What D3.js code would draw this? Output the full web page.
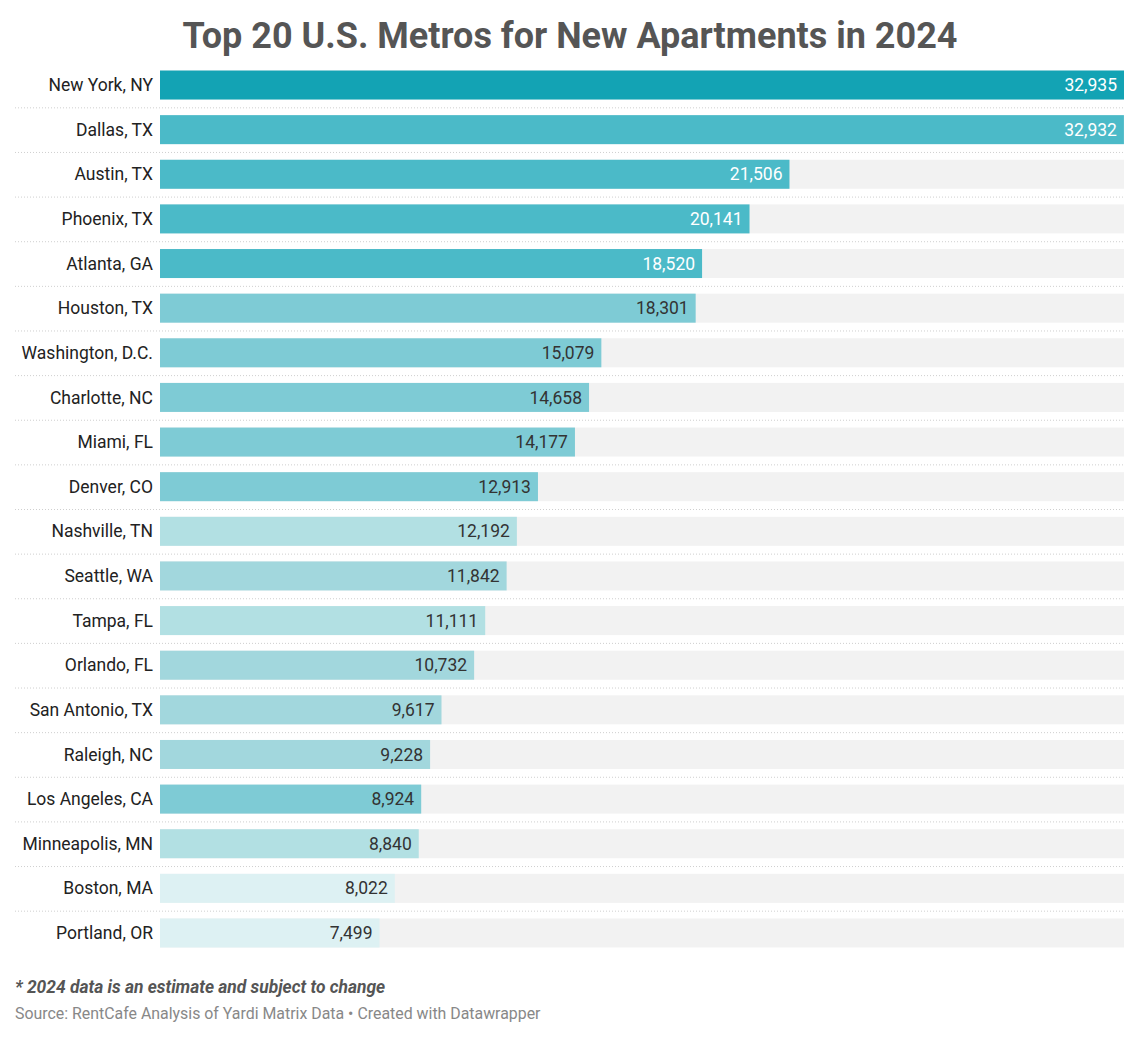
<!DOCTYPE html>
<html><head><meta charset="utf-8">
<script src="https://cdn.jsdelivr.net/npm/d3@7"></script>
<style>body{margin:0;background:#fff;font-family:Roboto,"Noto Sans",sans-serif;}</style>
</head><body><svg id="c" width="1140" height="1038"></svg>
<script>
const metros = ["New York, NY","Dallas, TX","Austin, TX","Phoenix, TX","Atlanta, GA","Houston, TX","Washington, D.C.","Charlotte, NC","Miami, FL","Denver, CO","Nashville, TN","Seattle, WA","Tampa, FL","Orlando, FL","San Antonio, TX","Raleigh, NC","Los Angeles, CA","Minneapolis, MN","Boston, MA","Portland, OR"];
const units = [32935,32932,21506,20141,18520,18301,15079,14658,14177,12913,12192,11842,11111,10732,9617,9228,8924,8840,8022,7499];
const barColors = ["#13a3b4","#4bbac8","#4bbac8","#4bbac8","#4bbac8","#7ecbd5","#7ecbd5","#7ecbd5","#7ecbd5","#7ecbd5","#b2e0e3","#a2d7dd","#b2e0e3","#a2d7dd","#a2d7dd","#a2d7dd","#7ecbd5","#b2e0e3","#ddf1f3","#ddf1f3"];
const darkLabel = [true,true,true,true,true,false,false,false,false,false,false,false,false,false,false,false,false,false,false,false];

const svg = d3.select("#c");
const x = d3.scaleLinear().domain([0, d3.max(units)]).range([160, 1124]);
const y = d3.scaleBand().domain(metros).range([62.7, 955.3]).paddingInner(0.35).paddingOuter(0.175);
const data = metros.map((m,i)=>({m, v:units[i], c:barColors[i], w:darkLabel[i]}));

svg.append("text").attr("x",570).attr("y",48).attr("text-anchor","middle")
  .attr("font-size",36).attr("font-weight",700).attr("fill","#555").text("Top 20 U.S. Metros for New Apartments in 2024");

// separators
svg.append("g").selectAll("line").data(metros.slice(1)).join("line")
  .attr("x1",15).attr("x2",1124)
  .attr("y1",d=>y(d)-y.step()*y.paddingInner()/2 + 0.5)
  .attr("y2",d=>y(d)-y.step()*y.paddingInner()/2 + 0.5)
  .attr("stroke","#cfcfcf").attr("stroke-width",1).attr("stroke-dasharray","1,2");

// background bars
svg.append("g").selectAll("rect").data(data).join("rect")
  .attr("x",x(0)).attr("width",x.range()[1]-x(0))
  .attr("y",d=>y(d.m)).attr("height",y.bandwidth()).attr("fill","#f2f2f2");

svg.append("g").selectAll("rect").data(data).join("rect")
  .attr("x",x(0)).attr("width",d=>x(d.v)-x(0))
  .attr("y",d=>y(d.m)).attr("height",y.bandwidth()).attr("fill",d=>d.c);

svg.append("g").selectAll("text").data(data).join("text")
  .attr("x",153).attr("y",d=>y(d.m)+y.bandwidth()/2).attr("dy","0.35em")
  .attr("text-anchor","end").attr("font-size",17.5).attr("fill","#222").text(d=>d.m);

const fmt = d3.format(",");
svg.append("g").selectAll("text").data(data).join("text")
  .attr("x",d=>x(d.v)-7).attr("y",d=>y(d.m)+y.bandwidth()/2).attr("dy","0.35em")
  .attr("text-anchor","end").attr("font-size",17.5).attr("fill",d=>d.w?"#fff":"#333").text(d=>fmt(d.v));

svg.append("text").attr("x",15).attr("y",993).attr("font-size",17.4).attr("font-weight",700)
  .attr("font-style","italic").attr("fill","#555").text("* 2024 data is an estimate and subject to change");
svg.append("text").attr("x",15).attr("y",1019).attr("font-size",15.9).attr("fill","#888")
  .text("Source: RentCafe Analysis of Yardi Matrix Data • Created with Datawrapper");
</script></body></html>
